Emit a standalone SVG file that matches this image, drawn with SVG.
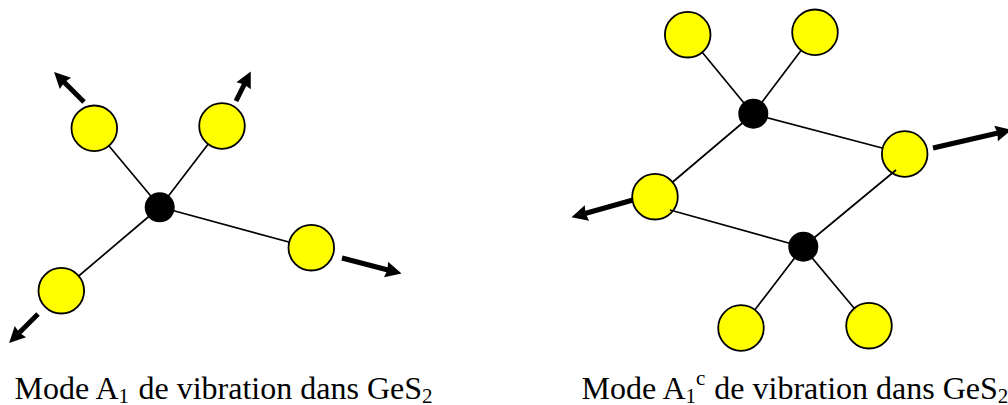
<svg xmlns="http://www.w3.org/2000/svg" width="1008" height="405" viewBox="0 0 1008 405">
<style>
.s{fill:#ff0;stroke:#000;stroke-width:1.800}
.b{fill:#000}
.bond{stroke:#000;stroke-width:1.700;fill:none}
.arr{stroke:#000;stroke-width:5;fill:none;marker-end:url(#ah)}
text{font-family:"Liberation Serif","Times New Roman",serif;font-size:32px;fill:#000}
.sub{font-size:21px}
</style>
<defs>
<marker id="ah" markerUnits="userSpaceOnUse" markerWidth="20" markerHeight="18" refX="2" refY="8" orient="auto" overflow="visible"><path d="M0 0L16 8L0 16L1.500 8Z" fill="#000"/></marker>
</defs>
<g id="connectors">
<path class="bond" d="M160 207L94 128M160 207L222 126M160 207L311 248M160 207L61 291"/>
<path class="bond" d="M753 114L688 35M753 114L815 32M753 114L905 154M753 114L655 197M803 247L741 328M803 247L869 326"/>
<path class="arr" d="M84 102L64 82"/>
<path class="arr" d="M236 101L244.500 84"/>
<path class="arr" d="M342 258L388 270"/>
<path class="arr" d="M38 314L19 333"/>
<path class="arr" d="M933 148L998 133"/>
<path class="arr" d="M633 200L585 213.500"/>
</g>
<g id="n1"><circle class="s" cx="94.300" cy="128.300" r="22.800"/></g>
<g id="n2"><circle class="s" cx="222" cy="126" r="22.800"/></g>
<g id="n3"><circle class="s" cx="311.300" cy="247.700" r="22.800"/></g>
<g id="n4"><circle class="s" cx="61.300" cy="290.700" r="22.800"/></g>
<g id="c1"><circle class="b" cx="159.700" cy="207.300" r="15"/></g>
<g id="n5"><circle class="s" cx="687.700" cy="34.700" r="22.800"/></g>
<g id="n6"><circle class="s" cx="815" cy="32.300" r="22.800"/></g>
<g id="n7"><circle class="s" cx="904.700" cy="154" r="22.800"/></g>
<g id="n8"><circle class="s" cx="655" cy="196.700" r="22.800"/></g>
<g id="n9"><circle class="s" cx="741" cy="328" r="22.800"/></g>
<g id="n10"><circle class="s" cx="869" cy="325.700" r="22.800"/></g>
<g id="c2"><circle class="b" cx="753.300" cy="113.700" r="15"/></g>
<g id="c3"><circle class="b" cx="803.300" cy="246.700" r="15"/></g>
<g id="connectors-over"><path class="bond" d="M803 247L896 170M803 247L670 210"/></g>
<text id="t1" x="14.500" y="399">Mode A<tspan class="sub" dy="4">1</tspan><tspan dx="1.500" dy="-4"> de vibration dans GeS</tspan><tspan class="sub" dy="4">2</tspan></text>
<text id="t2" x="581.500" y="399">Mode A<tspan class="sub" dy="4">1</tspan><tspan class="sub" dy="-18">c</tspan><tspan dx="1" dy="14"> de vibration dans GeS</tspan><tspan class="sub" dy="4">2</tspan></text>
</svg>
